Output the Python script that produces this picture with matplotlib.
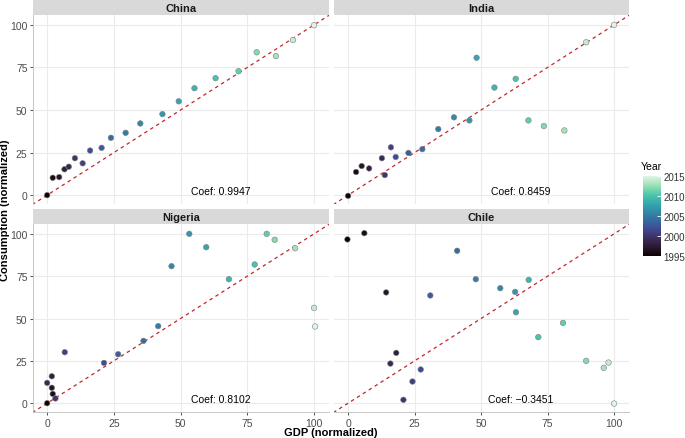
import matplotlib
matplotlib.use("Agg")
import matplotlib.pyplot as plt
import numpy as np
import seaborn as sns
from matplotlib.colors import Normalize

plt.rcParams['font.family'] = ['Liberation Sans', 'DejaVu Sans']

years = list(range(1995, 2016))

countries = ["China", "India", "Nigeria", "Chile"]

china_gdp = [0, 2.1, 4.5, 6.5, 8.1, 10.4, 13.3, 16.1, 20.4, 23.9, 29.4, 34.9, 43.2, 49.3, 55.2, 63.1, 71.7, 78.5, 85.7, 92.1, 100]
china_cons = [0, 10.2, 10.6, 15.2, 16.7, 21.7, 18.7, 26.2, 27.8, 33.7, 36.6, 42.1, 47.6, 55.1, 62.8, 68.7, 72.8, 83.9, 81.7, 91.1, 99.8]

india_gdp = [0, 3.0, 5.1, 7.9, 12.7, 13.8, 16.1, 17.9, 22.7, 27.9, 33.9, 39.8, 45.6, 48.3, 55.0, 63.0, 67.8, 73.6, 81.3, 89.5, 100]
india_cons = [-0.4, 13.6, 17.1, 15.7, 21.7, 11.8, 28.1, 22.4, 24.8, 27.0, 38.8, 45.7, 43.9, 80.7, 63.2, 68.3, 43.9, 40.6, 38.0, 89.8, 100]

nigeria_gdp = [0, 2.1, 1.75, 1.75, 0, 3.1, 6.6, 21.3, 26.6, 36.1, 41.6, 46.6, 53.25, 59.6, 68.1, 77.75, 82.25, 85.25, 92.9, 100, 100.4]
nigeria_cons = [0, 5.5, 9.1, 15.9, 12.0, 2.8, 30.1, 23.8, 28.9, 36.8, 45.5, 80.9, 100, 92.1, 73.2, 81.9, 100, 96.5, 91.5, 56.3, 45.3]

chile_gdp = [-0.25, 6.1, 14.3, 18.1, 15.9, 20.8, 24.2, 27.3, 30.9, 41.0, 48.0, 57.2, 62.8, 63.1, 67.9, 71.5, 80.8, 89.5, 96.1, 97.9, 100]
chile_cons = [96.7, 100.4, 65.4, 29.7, 23.4, 2.0, 12.8, 19.9, 63.6, 90.0, 73.2, 67.9, 65.7, 53.7, 72.8, 39.0, 47.4, 25.0, 20.9, 24.0, -0.2]

coefs = ["0.9947", "0.8459", "0.8102", "\u22120.3451"]

data = {
    "China": (china_gdp, china_cons),
    "India": (india_gdp, india_cons),
    "Nigeria": (nigeria_gdp, nigeria_cons),
    "Chile": (chile_gdp, chile_cons),
}

W, H = 685, 439
fig = plt.figure(figsize=(W / 100, H / 100), dpi=100)

def px_axes(x0, y0, x1, y1):
    return fig.add_axes([x0 / W, 1 - y1 / H, (x1 - x0) / W, (y1 - y0) / H])

cmap = sns.color_palette("mako", as_cmap=True)
norm = Normalize(vmin=1995, vmax=2015)

cols = [(33, 329), (334, 629)]
rows = [(1, 16, 205), (210, 225, 413)]

xlim = (-5.3, 105.6)
ylim = (-5.2, 105.8)
ticks = [0, 25, 50, 75, 100]
tick_color = '#4D4D4D'

for i, name in enumerate(countries):
    r, c = divmod(i, 2)
    x0, x1 = cols[c]
    s0, p0, p1 = rows[r]
    # strip
    sax = px_axes(x0, s0, x1, p0)
    sax.set_facecolor('#D9D9D9')
    sax.set_xticks([]); sax.set_yticks([])
    for sp in sax.spines.values():
        sp.set_visible(False)
    sax.text(0.5, 0.45, name, ha='center', va='center', fontsize=8,
             fontweight='bold', color='#1A1A1A', transform=sax.transAxes)
    # panel
    ax = px_axes(x0, p0, x1, p1)
    ax.set_xlim(*xlim); ax.set_ylim(*ylim)
    ax.set_xticks(ticks); ax.set_yticks(ticks)
    ax.grid(True, color='#EBEBEB', lw=0.8)
    ax.set_axisbelow(True)
    for sp in ax.spines.values():
        sp.set_visible(False)
    if c == 0:
        ax.spines['left'].set_visible(True)
        ax.spines['left'].set_color('#BEBEBE')
        ax.spines['left'].set_linewidth(0.6)
    if r == 1:
        ax.spines['bottom'].set_visible(True)
        ax.spines['bottom'].set_color('#BEBEBE')
        ax.spines['bottom'].set_linewidth(0.6)
    ax.tick_params(axis='both', length=2.5, width=0.6, color='#333333',
                   labelsize=7.5, labelcolor=tick_color, pad=1.5)
    if c != 0:
        ax.tick_params(axis='y', left=False, labelleft=False)
    if r != 1:
        ax.tick_params(axis='x', bottom=False, labelbottom=False)
    ax.plot([-10, 110], [-10, 110], ls=(0, (2.8, 2.8)), color='#C0282A', lw=0.9, zorder=2)
    gx, gy = data[name]
    ax.scatter(gx, gy, c=years, cmap=cmap, norm=norm, s=16,
               edgecolors='#808080', linewidths=0.4, zorder=3)
    ax.text(65, 2.5, "Coef: " + coefs[i], ha='center', va='center',
            fontsize=7.5, color='black', zorder=4)

# axis titles
fig.text(331 / W, 1 - 433.5 / H, "GDP (normalized)", ha='center', va='center',
         fontsize=8, fontweight='bold')
fig.text(5.5 / W, 1 - 210 / H, "Consumption (normalized)", ha='center', va='center',
         fontsize=8, fontweight='bold', rotation=90)

# colorbar
cax = px_axes(643, 177, 661, 257)
sm = matplotlib.cm.ScalarMappable(norm=norm, cmap=cmap)
cb = fig.colorbar(sm, cax=cax)
cb.set_ticks([1995, 2000, 2005, 2010, 2015])
cb.outline.set_visible(False)
cax.tick_params(length=3, width=0.6, color='white', direction='in',
                labelsize=7, labelcolor='#333333', pad=2)
fig.text(641 / W, 1 - 167 / H, "Year", ha='left', va='center', fontsize=7.5)

fig.savefig("out.png", dpi=100)
